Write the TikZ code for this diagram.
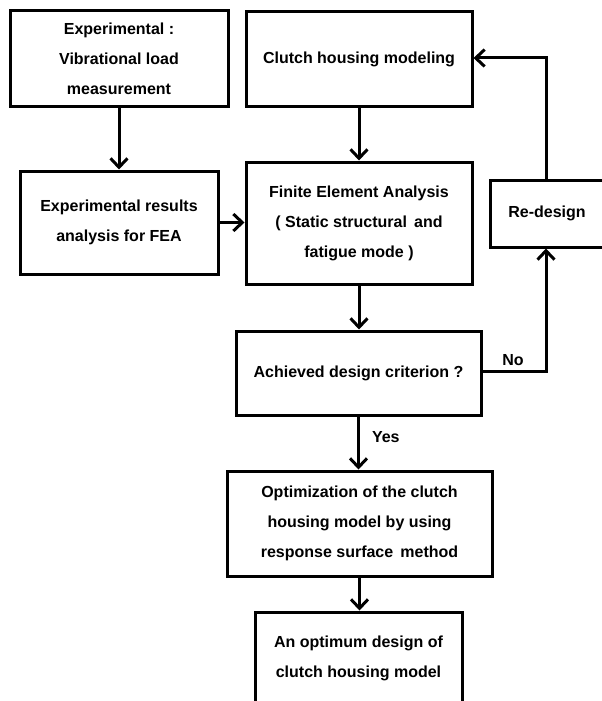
\documentclass[tikz,border=0pt]{standalone}
\usepackage{fontspec}
\setmainfont{Liberation Sans}
\usetikzlibrary{arrows.meta}
\begin{document}
\begin{tikzpicture}[x=1pt,y=-1pt,
  box/.style={draw, line width=3pt, align=center, inner sep=0pt,
    font=\fontsize{16}{30}\selectfont\bfseries},
  arr/.style={line width=3pt, -{Straight Barb[length=9pt,width=17pt,line width=3pt]}},
  lab/.style={font=\fontsize{16}{19}\selectfont\bfseries, inner sep=0pt}]
\useasboundingbox (0,0) rectangle (602,701);
\node[box, minimum width=218, minimum height=95] (a) at (119,58.5) {Experimental :\\Vibrational load\\measurement};
\node[box, minimum width=198, minimum height=103] (b) at (119,222.5) {Experimental results\\analysis for FEA};
\node[box, minimum width=226, minimum height=94] (c) at (359,59) {Clutch housing modeling};
\node[box, minimum width=226, minimum height=122] (d) at (359,223) {Finite Element Analysis\\( Static structural\,\ and\\fatigue mode )};
\node[box, minimum width=114, minimum height=67] (e) at (547,213.5) {Re-design};
\node[box, minimum width=245, minimum height=84] (f) at (358.5,373) {Achieved design criterion ?};
\node[box, minimum width=265, minimum height=105] (g) at (359.5,523.5) {Optimization of the clutch\\housing model by using\\response surface\,\ method};
\node[box, minimum width=207, minimum height=92] (h) at (358.5,658) {An optimum design of\\clutch housing model};
\coordinate (tr) at (546,58);
\coordinate (br) at (546,371);
\draw[arr] (a.south) -- (b.north);
\draw[arr] (b.east) -- (b.east -| d.west);
\draw[arr] (c.south) -- (d.north);
\draw[arr] (d.south) -- (d.south |- f.north);
\draw[arr] (f.south) -- (f.south |- g.north) node[lab, pos=0.38, right=12pt] {Yes};
\draw[arr] (g.south) -- (g.south |- h.north);
\draw[arr] (e.north -| tr) -- (tr) -- (tr -| c.east);
\draw[arr] (f.east |- br) -- (br) -- (br |- e.south) ;
\node[lab] (no) at (513,360) {No};
\end{tikzpicture}
\end{document}
